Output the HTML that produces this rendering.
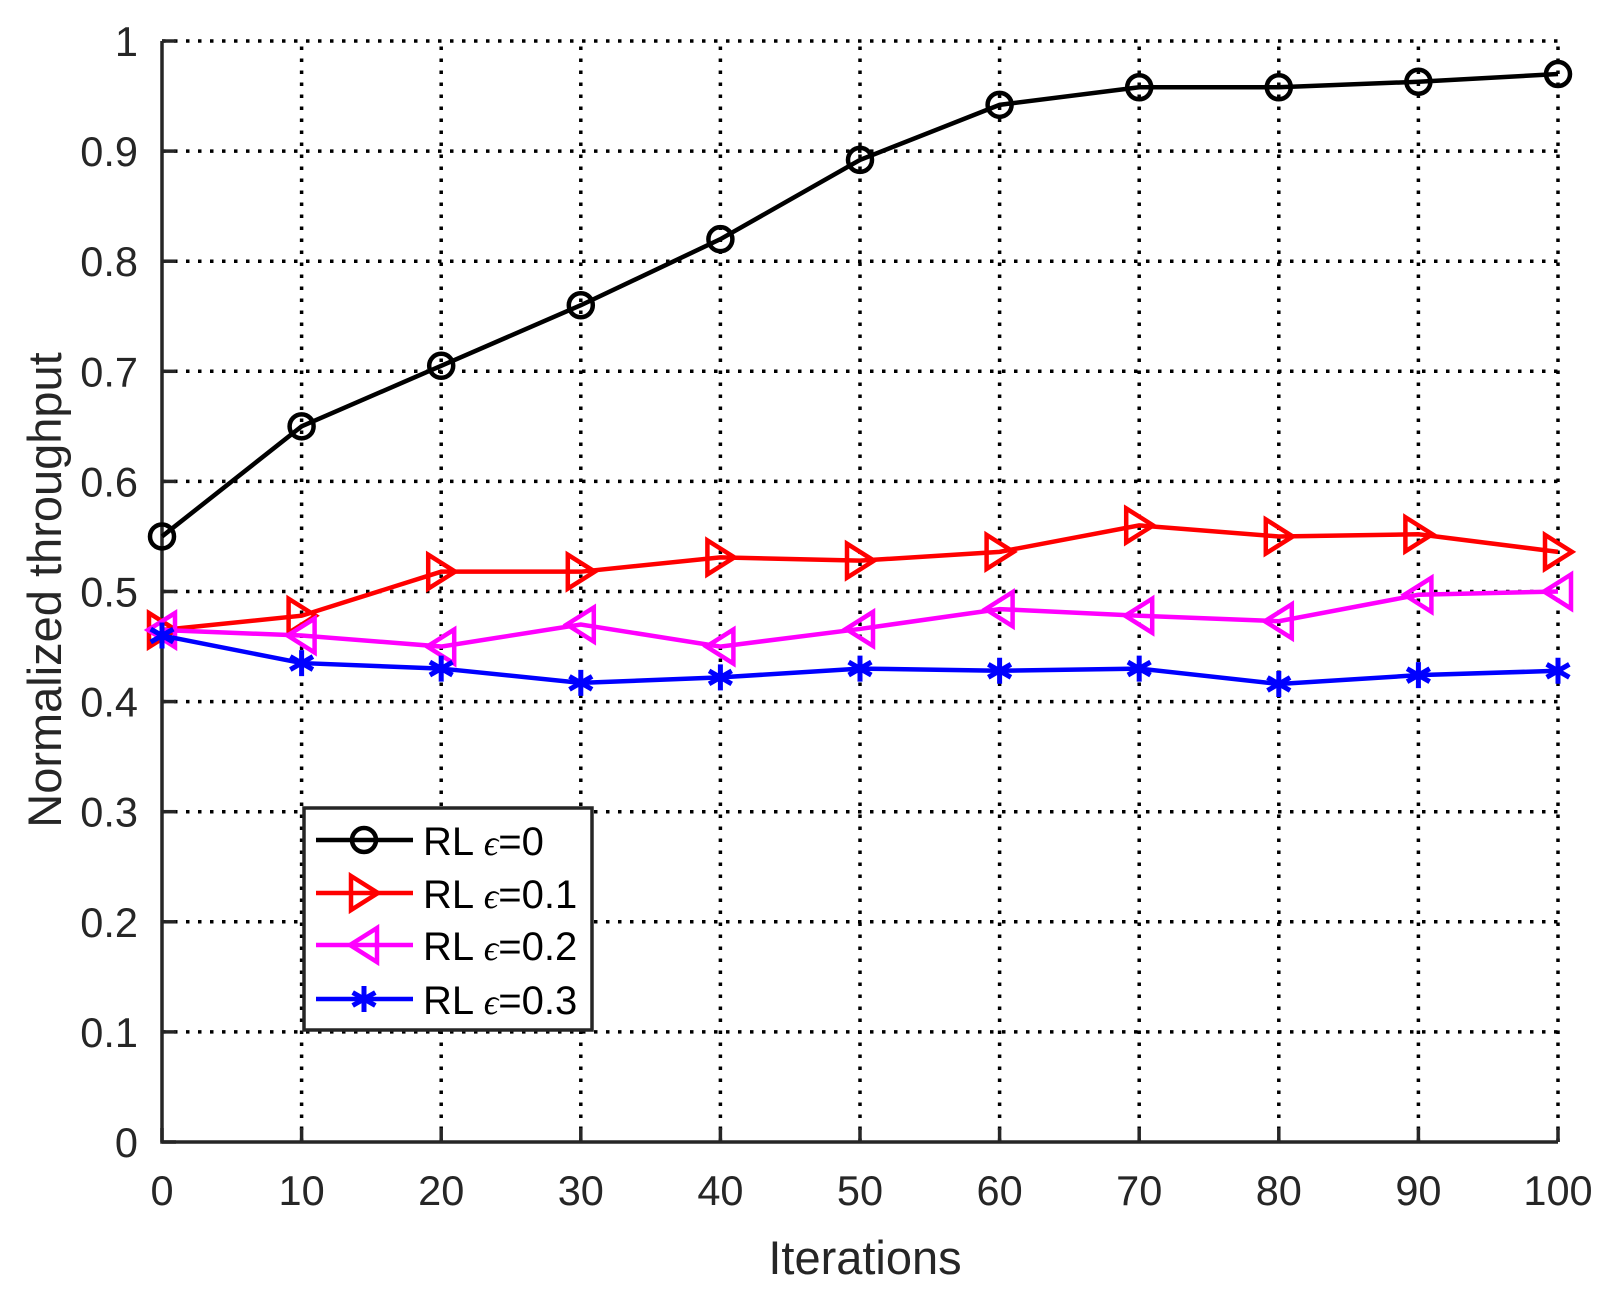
<!DOCTYPE html>
<html><head><meta charset="utf-8"><style>html,body{margin:0;padding:0;background:#fff}svg{display:block}</style></head>
<body>
<svg width="1622" height="1289" viewBox="0 0 1622 1289" xmlns="http://www.w3.org/2000/svg" font-family="Liberation Sans, Arial, sans-serif">
<g id="grid" stroke="#000" stroke-width="3.5" stroke-dasharray="3.5 8.5" fill="none"></g>
<g id="axes"></g>
<g id="series"></g>
<g id="legend"></g>
<script>
const L=162,R=1558,T=41,B=1142;
const X=i=>L+(R-L)*i/100, Y=v=>B-(B-T)*v;
const ns="http://www.w3.org/2000/svg";
function el(p,t,a,txt){const e=document.createElementNS(ns,t);for(const k in a)e.setAttribute(k,a[k]);if(txt!=null)e.textContent=txt;p.appendChild(e);return e;}
const g=document.getElementById('grid'),ax=document.getElementById('axes'),s=document.getElementById('series'),lg=document.getElementById('legend');
for(let i=1;i<=10;i++){el(g,'line',{x1:X(i*10),y1:B,x2:X(i*10),y2:T});}
for(let j=1;j<=10;j++){el(g,'line',{x1:L,y1:Y(j/10),x2:R,y2:Y(j/10)});}
el(ax,'path',{d:`M${L},${T}V${B}H${R}`,stroke:'#262626','stroke-width':3.5,fill:'none'});
for(let i=0;i<=10;i++){el(ax,'line',{x1:X(i*10),y1:B,x2:X(i*10),y2:B-14,stroke:'#262626','stroke-width':3.5});
 el(ax,'text',{x:X(i*10),y:1205,'font-size':41.5,'text-anchor':'middle',fill:'#262626'},String(i*10));}
for(let j=0;j<=10;j++){el(ax,'line',{x1:L,y1:Y(j/10),x2:L+14,y2:Y(j/10),stroke:'#262626','stroke-width':3.5});
 el(ax,'text',{x:138,y:Y(j/10)+15,'font-size':41.5,'text-anchor':'end',fill:'#262626'},j==0?'0':j==10?'1':(j/10).toFixed(1));}
el(ax,'text',{x:865,y:1274,'font-size':47,'text-anchor':'middle',fill:'#262626'},'Iterations');
el(ax,'text',{x:0,y:0,'font-size':47,'text-anchor':'middle',fill:'#262626',transform:'translate(61,590) rotate(-90)'},'Normalized throughput');
const data=[
 ['#000','o',[.55,.65,.705,.76,.82,.892,.942,.958,.958,.963,.97]],
 ['#f00','r',[.465,.478,.518,.518,.531,.528,.536,.56,.55,.552,.536]],
 ['#f0f','l',[.465,.46,.45,.47,.45,.466,.484,.478,.473,.497,.5]],
 ['#00f','*',[.46,.435,.43,.417,.422,.43,.428,.43,.416,.424,.428]]];
function mk(p,c,t,x,y){
 if(t=='o')el(p,'circle',{cx:x,cy:y,r:12,fill:'none',stroke:c,'stroke-width':4.5});
 else if(t=='r')el(p,'path',{d:`M${x-13},${y-17}L${x+14},${y}L${x-13},${y+17}Z`,fill:'none',stroke:c,'stroke-width':4.5});
 else if(t=='l')el(p,'path',{d:`M${x+13},${y-17}L${x-14},${y}L${x+13},${y+17}Z`,fill:'none',stroke:c,'stroke-width':4.5});
 else{const r=13;el(p,'path',{d:`M${x},${y-r}V${y+r}M${x-r*.87},${y-r/2}L${x+r*.87},${y+r/2}M${x-r*.87},${y+r/2}L${x+r*.87},${y-r/2}`,stroke:c,'stroke-width':5});}
}
for(const [c,t,v] of data){
 el(s,'polyline',{points:v.map((d,i)=>X(i*10)+','+Y(d)).join(' '),fill:'none',stroke:c,'stroke-width':4.5});
 v.forEach((d,i)=>mk(s,c,t,X(i*10),Y(d)));
}
el(lg,'rect',{x:304,y:808,width:288,height:222,fill:'#fff',stroke:'#262626','stroke-width':3.5});
const labs=['0','0.1','0.2','0.3'],ys=[840,893,945,999];
data.forEach(([c,t],k)=>{const y=ys[k];
 el(lg,'line',{x1:316,y1:y,x2:413,y2:y,stroke:c,'stroke-width':4.5});mk(lg,c,t,364,y);
 const tx=el(lg,'text',{x:423,y:y+15,'font-size':40,fill:'#000'});
 el(tx,'tspan',{},'RL ');el(tx,'tspan',{'font-family':'Liberation Serif, serif','font-style':'italic','font-size':36},'\u03F5');el(tx,'tspan',{},'='+labs[k]);
});
</script>
</svg>
</body></html>
